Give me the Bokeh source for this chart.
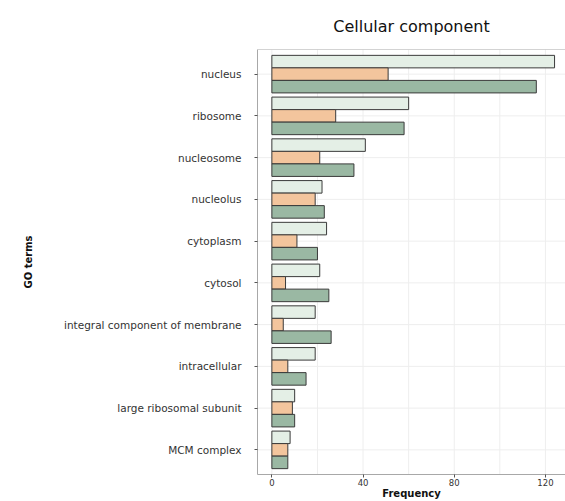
from bokeh.plotting import figure
from bokeh.models import ColumnDataSource, Range1d, FixedTicker, LinearAxis, Span
from bokeh.transform import dodge
from bokeh.embed import file_html
from bokeh.resources import INLINE

categories = ["nucleus", "ribosome", "nucleosome", "nucleolus", "cytoplasm",
              "cytosol", "integral component of membrane", "intracellular",
              "large ribosomal subunit", "MCM complex"]
series_light = [124, 60, 41, 22, 24, 21, 19, 19, 10, 8]
series_orange = [51, 28, 21, 19, 11, 6, 5, 7, 9, 7]
series_green = [116, 58, 36, 23, 20, 25, 26, 15, 10, 7]
x_ticks = [0, 40, 80, 120]
x_grid_ticks = [0, 20, 40, 60, 80, 100, 120]

pos = list(range(len(categories)))
src = ColumnDataSource(dict(y=pos, light=series_light, orange=series_orange,
                            green=series_green, cat=categories))

FONT = "DejaVu Sans"
Y_TOP = -0.59
Y_BOT = 9.59
X_START = -6.3
X_END = 128.8
p = figure(width=565, height=501, output_backend="svg", toolbar_location=None,
           x_range=Range1d(X_START, X_END), y_range=Range1d(Y_BOT, Y_TOP),
           min_border_left=257, min_border_right=0, min_border_top=49,
           min_border_bottom=10, x_axis_type=None, y_axis_type=None)
p.outline_line_color = None
p.background_fill_color = "white"
p.border_fill_color = "white"

# grid lines drawn as glyphs
grid_c = "#EEEEEE"
p.segment(x0=x_grid_ticks, x1=x_grid_ticks, y0=[Y_TOP] * len(x_grid_ticks),
          y1=[Y_BOT] * len(x_grid_ticks), line_color=grid_c, line_width=1)
p.segment(x0=[X_START] * len(pos), x1=[X_END] * len(pos), y0=pos, y1=pos,
          line_color=grid_c, line_width=1)

bar_h = 0.3
line_c = "#3a3a3a"
p.hbar(y=dodge("y", -0.3, range=p.y_range), right="light", left=0, height=bar_h,
       source=src, fill_color="#E4EFE6", line_color=line_c, line_width=1)
p.hbar(y=dodge("y", 0.0, range=p.y_range), right="orange", left=0, height=bar_h,
       source=src, fill_color="#F3C59D", line_color=line_c, line_width=1)
p.hbar(y=dodge("y", 0.3, range=p.y_range), right="green", left=0, height=bar_h,
       source=src, fill_color="#9AB8A3", line_color=line_c, line_width=1)

# x axis
xa = LinearAxis(ticker=FixedTicker(ticks=x_ticks), axis_label="Frequency")
xa.axis_line_color = "#A8A8A8"
xa.major_tick_line_color = "#555555"
xa.major_tick_out = 3
xa.major_tick_in = 0
xa.minor_tick_line_color = None
xa.major_label_standoff = 1
xa.major_label_text_font = FONT
xa.major_label_text_font_size = "8.5px"
xa.major_label_text_color = "#333333"
xa.axis_label_text_font = FONT
xa.axis_label_text_font_size = "10px"
xa.axis_label_text_font_style = "bold"
xa.axis_label_text_color = "#111111"
xa.axis_label_standoff = -1
p.add_layout(xa, "below")

# y axis
ya = LinearAxis(ticker=FixedTicker(ticks=pos), axis_label="GO terms")
ya.major_label_overrides = {i: c for i, c in zip(pos, categories)}
ya.axis_line_color = "#A8A8A8"
ya.major_tick_line_color = "#555555"
ya.major_tick_out = 3
ya.major_tick_in = 0
ya.minor_tick_line_color = None
ya.major_label_standoff = 13
ya.major_label_text_font = FONT
ya.major_label_text_font_size = "10.5px"
ya.major_label_text_color = "#333333"
ya.axis_label_text_font = FONT
ya.axis_label_text_font_size = "10px"
ya.axis_label_text_font_style = "bold"
ya.axis_label_text_color = "#111111"
ya.axis_label_standoff = 27
p.add_layout(ya, "left")

# top border of the panel
p.add_layout(Span(location=Y_TOP, dimension="width", line_color="#A8A8A8", line_width=1))

p.title.text = "Cellular component"
p.title.text_font = FONT
p.title.text_font_size = "16px"
p.title.text_font_style = "normal"
p.title.align = "center"
p.title.text_color = "#111111"
p.title.standoff = 28

open("out.html", "w").write(file_html(p, INLINE))
